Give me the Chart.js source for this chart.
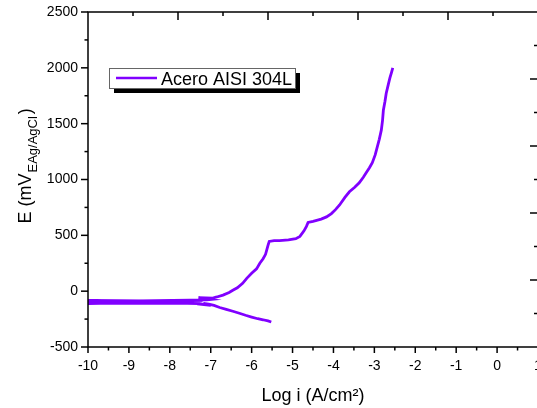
<!DOCTYPE html>
<html>
<head>
<meta charset="utf-8">
<script src="https://cdn.jsdelivr.net/npm/chart.js@4/dist/chart.umd.min.js"></script>
<style>
  html, body { margin: 0; padding: 0; background: #fff; overflow: hidden; }
  #wrap { position: absolute; left: 0; top: 0; width: 550px; height: 408px; }
</style>
</head>
<body>
<div id="wrap"><canvas id="chart" width="550" height="408"></canvas></div>
<script>
// Potentiodynamic polarization curve
const seriesName = 'Acero AISI 304L';
const lineColor = '#8000ff';

const xTicks = [-10, -9, -8, -7, -6, -5, -4, -3, -2, -1, 0, 1];
const yTicks = [-500, 0, 500, 1000, 1500, 2000, 2500];

// cathodic branch (scan start -> corrosion potential)
const cathodicLogI = [-5.52, -5.60, -5.72, -5.85, -6.00, -6.15, -6.30, -6.46, -6.62, -6.78, -6.92, -7.05, -7.18, -7.00, -7.30];
const cathodicE    = [-276, -266, -256, -247, -232, -216, -198, -180, -163, -146, -128, -117, -110, -126, -114];

// noisy band around Ecorr where |i| drops towards 1e-10
const bandLogI = [-7.30, -10, -7.35, -10, -7.25, -10, -7.40, -10, -7.30, -10, -7.20, -10, -7.35, -10, -7.25, -10, -7.30, -10, -7.35, -10, -7.10];
const bandE    = [-112, -88, -106, -109, -84, -97, -101, -83, -92, -111, -87, -102, -96, -91, -105, -86, -94, -99, -90, -95, -78];

// anodic branch
const anodicLogI = [-7.00, -7.30, -6.95, -6.85, -6.70, -6.55, -6.46, -6.35, -6.22, -6.12, -6.00, -5.88, -5.80, -5.72, -5.66, -5.63, -5.60, -5.57,
  -5.45, -5.32, -5.10, -4.92, -4.82, -4.72, -4.66, -4.62, -4.50, -4.30, -4.17, -4.05, -3.95, -3.85, -3.72, -3.61, -3.48, -3.37, -3.27,
  -3.20, -3.12, -3.05, -2.98, -2.93, -2.88, -2.83, -2.80, -2.78, -2.74, -2.71, -2.66, -2.62, -2.58, -2.55];
const anodicE = [-74, -58, -62, -52, -35, -12, 8, 30, 70, 115, 160, 200, 250, 290, 330, 370, 410, 445,
  452, 453, 460, 470, 490, 540, 580, 615, 625, 645, 665, 695, 730, 772, 840, 890, 930, 970, 1020,
  1060, 1105, 1150, 1220, 1290, 1360, 1442, 1530, 1620, 1700, 1772, 1850, 1910, 1960, 2000];

const toPoints = (xs, ys) => xs.map((v, i) => ({ x: v, y: ys[i] }));
const curve = [
  ...toPoints(cathodicLogI, cathodicE),
  ...toPoints(bandLogI, bandE),
  ...toPoints(anodicLogI, anodicE)
];

const font = "'Liberation Sans', Arial, sans-serif";

function stroke(ctx, x1, y1, x2, y2) {
  ctx.beginPath();
  ctx.moveTo(x1, y1);
  ctx.lineTo(x2, y2);
  ctx.stroke();
}

// box around the plot with Origin-style ticks
const framePlugin = {
  id: 'frame',
  afterDraw(chart) {
    const { ctx, chartArea: a, scales } = chart;
    const { x, y, x2, y2 } = scales;
    ctx.save();
    ctx.strokeStyle = '#000';
    ctx.lineWidth = 1.5;
    ctx.strokeRect(a.left, a.top, a.right - a.left, a.bottom - a.top);

    // bottom: majors every 1, minors every 0.5, outward
    for (let v = x.min; v <= x.max + 1e-9; v += 0.5) {
      const px = x.getPixelForValue(v);
      stroke(ctx, px, a.bottom, px, a.bottom + (Number.isInteger(v) ? 6 : 3.5));
    }
    // left: majors every 500, minors every 250, outward
    for (let v = y.min; v <= y.max + 1e-9; v += 250) {
      const py = y.getPixelForValue(v);
      stroke(ctx, a.left, py, a.left - (v % 500 === 0 ? 7 : 3.5), py);
    }
    // top and right: inward
    for (let v = 1; v < 10; v++) {
      const px = x2.getPixelForValue(v);
      stroke(ctx, px, a.top, px, a.top + (v % 2 === 0 ? 8 : 4));
      const py = y2.getPixelForValue(v);
      stroke(ctx, a.right, py, a.right - (v % 2 === 0 ? 8 : 4), py);
    }
    ctx.restore();
  }
};

// axis titles and the framed legend with its drop shadow
const textPlugin = {
  id: 'texts',
  afterDraw(chart) {
    const { ctx, chartArea: a } = chart;
    ctx.save();
    ctx.fillStyle = '#000';
    ctx.textBaseline = 'alphabetic';

    // x title
    ctx.font = '18px ' + font;
    ctx.textAlign = 'center';
    ctx.fillText('Log i (A/cm\u00B2)', (a.left + a.right) / 2, a.bottom + 54);

    // y title with subscript
    ctx.save();
    ctx.translate(31, (a.top + a.bottom) / 2 + 44);
    ctx.rotate(-Math.PI / 2);
    ctx.textAlign = 'left';
    ctx.font = '18px ' + font;
    const p1 = 'E (mV';
    ctx.fillText(p1, 0, 0);
    let off = ctx.measureText(p1).width + 1;
    ctx.font = '13px ' + font;
    const sub = 'EAg/AgCl';
    ctx.fillText(sub, off, 6);
    off += ctx.measureText(sub).width + 2;
    ctx.font = '18px ' + font;
    ctx.fillText(')', off, 0);
    ctx.restore();

    // legend
    const bx = a.left + 21, by = a.top + 56, bw = 186, bh = 20;
    ctx.fillStyle = '#000';
    ctx.fillRect(bx + 5, by + 5, bw, bh);
    ctx.fillStyle = '#fff';
    ctx.fillRect(bx, by, bw, bh);
    ctx.strokeStyle = '#666';
    ctx.lineWidth = 1;
    ctx.strokeRect(bx + 0.5, by + 0.5, bw, bh);
    ctx.strokeStyle = lineColor;
    ctx.lineWidth = 2.5;
    stroke(ctx, bx + 7, by + 10, bx + 48, by + 10);
    ctx.fillStyle = '#000';
    ctx.font = '18px ' + font;
    ctx.textAlign = 'left';
    ctx.fillText(seriesName, bx + 52, by + 16.5);
    ctx.restore();
  }
};

const hiddenAxis = (position) => ({
  type: 'linear', position, min: 0, max: 10, display: false,
  grid: { display: false, drawTicks: false },
  ticks: { display: false }
});

new Chart(document.getElementById('chart'), {
  type: 'scatter',
  data: {
    datasets: [{
      label: seriesName,
      data: curve,
      showLine: true,
      borderColor: lineColor,
      backgroundColor: lineColor,
      borderWidth: 2.8,
      pointRadius: 0,
      tension: 0
    }]
  },
  options: {
    responsive: false,
    animation: false,
    events: [],
    layout: { padding: { left: 0, top: 12, right: 12, bottom: 0 } },
    plugins: { legend: { display: false }, tooltip: { enabled: false } },
    scales: {
      x: {
        type: 'linear',
        min: -10,
        max: 1,
        afterBuildTicks: s => { s.ticks = xTicks.map(v => ({ value: v })); },
        afterFit: s => { s.height = 61; s.paddingLeft = 0; s.paddingRight = 0; },
        grid: { display: false, drawTicks: false },
        border: { display: false },
        ticks: { color: '#000', padding: 11, font: { family: font, size: 14 }, callback: v => String(v), maxRotation: 0, autoSkip: false }
      },
      y: {
        type: 'linear',
        min: -500,
        max: 2500,
        afterBuildTicks: s => { s.ticks = yTicks.map(v => ({ value: v })); },
        afterFit: s => { s.width = 88; s.paddingTop = 0; s.paddingBottom = 0; },
        grid: { display: false, drawTicks: false },
        border: { display: false },
        ticks: { color: '#000', padding: 10, font: { family: font, size: 14 }, callback: v => String(v), autoSkip: false }
      },
      x2: hiddenAxis('top'),
      y2: hiddenAxis('right')
    }
  },
  plugins: [framePlugin, textPlugin]
});
</script>
</body>
</html>
